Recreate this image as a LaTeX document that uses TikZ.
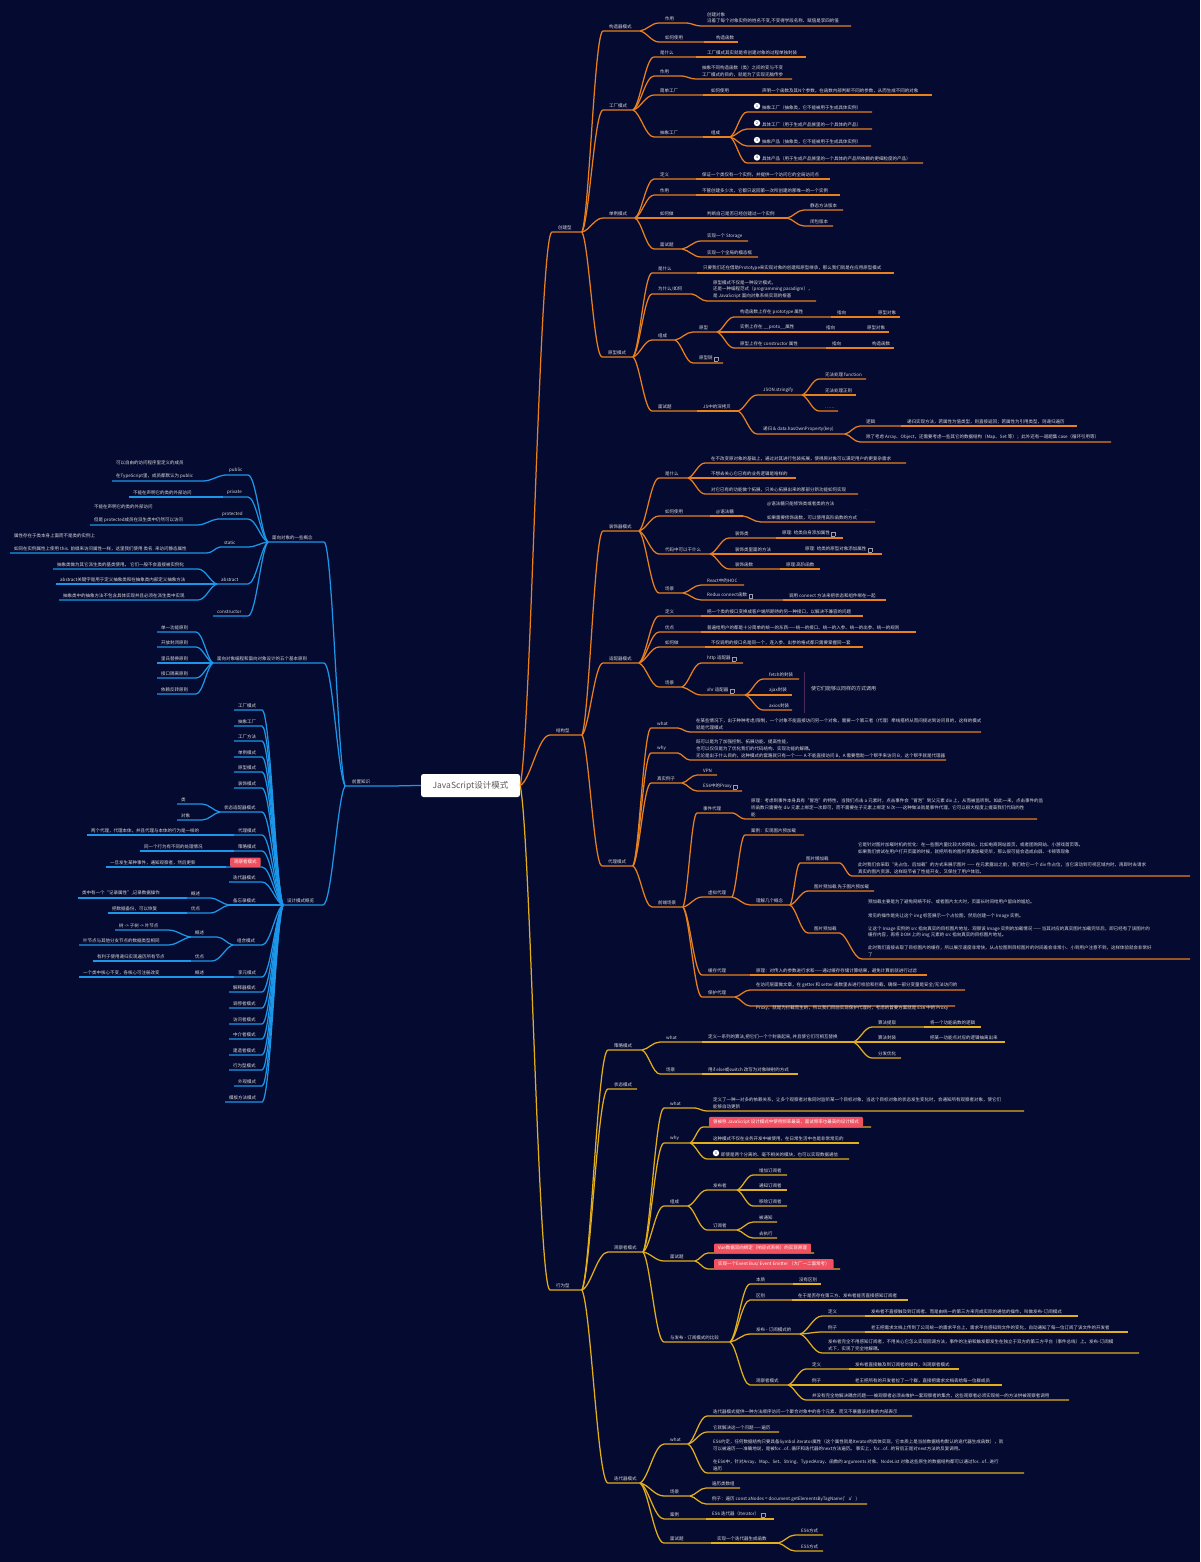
\documentclass[tikz,border=0pt]{standalone}
\usepackage{fontspec}
\setmainfont{Noto Sans CJK SC}
\usetikzlibrary{calc}
\definecolor{bgnavy}{HTML}{050A30}
\definecolor{orangeline}{HTML}{E8801E}
\definecolor{yellowline}{HTML}{E2AE1C}
\definecolor{blueline}{HTML}{1C96E8}
\definecolor{redtag}{HTML}{F0505F}
\definecolor{papertext}{HTML}{DCDCDC}
\definecolor{sumline}{HTML}{4A2C5A}
\definecolor{dimblue}{HTML}{1C4C90}
\tikzset{
	txt/.style={font=\fontsize{4.5}{6.8}\selectfont,text=papertext,inner sep=0pt,align=left}, % Every topic text
	hot/.style={fill=redtag,text=white,rounded corners=1pt,inner xsep=4pt,inner ysep=2.5pt,yshift=-2pt},
	badge/.style={circle,fill=white,text=bgnavy,inner sep=0pt,minimum size=6.4pt,font=\fontsize{3.4}{4}\selectfont},
	rootbox/.style={fill=white,rounded corners=2.5pt,text=black!65,minimum width=99pt,minimum height=23pt,inner sep=0pt,font=\fontsize{8.5}{10}\selectfont}
}
% Small note icon behind a topic text
\newcommand{\noteic}{\hspace{1.5pt}\raisebox{-.4pt}{\setlength{\fboxsep}{.5pt}\setlength{\fboxrule}{.25pt}\textcolor{papertext!70!bgnavy}{\fbox{\rule{0pt}{2.6pt}\rule{2.6pt}{0pt}}}}}
% Curve from the end of the parent line to the child line, then the line itself
\newcommand{\linkline}[2]{%
	\draw[branch] let \p1=(#1-b),\p2=(#2-a) in (\x1,\y1)
		.. controls ({\x1+.35*(\x2-\x1)},{\y1+.1*(\y2-\y1)}) and ({\x1+.6*(\x2-\x1)},\y2) .. (\x2,\y2) -- (#2-b);}
% [node options]{name}{parent}{line start}{line end}{line y}{text}
\newcommand{\topicR}[7][]{%
	\coordinate (#2-a) at (#4,#6);
	\coordinate (#2-b) at (#5,#6);
	\linkline{#3}{#2}
	\node[txt,anchor=south west,#1] (#2) at ($(#2-a)+(6,-2)$) {#7};}
\newcommand{\topicL}[7][]{%
	\coordinate (#2-a) at (#4,#6);
	\coordinate (#2-b) at (#5,#6);
	\linkline{#3}{#2}
	\node[txt,anchor=south west,#1] (#2) at ($(#2-b)+(4,-2)$) {#7};}
\begin{document}
\begin{tikzpicture}[x=1pt,y=-1pt]
	\fill[bgnavy] (0,0) rectangle (1200,1562);
	\useasboundingbox (0,0) rectangle (1200,1562);
	% Draw root
	\node[rootbox] (root) at (470.5,785.5) {JavaScript设计模式};
	\coordinate (rootr-b) at (root.east);
	\coordinate (rootl-b) at (root.west);
	% Creational branch
	\begin{scope}[branch/.style={draw=orangeline,line width=1.25pt}]
		\topicR{cj}{rootr}{552}{582}{232}{创建型}
		\topicR{gz}{cj}{603}{640}{31}{构造器模式}
		\topicR{gza}{gz}{659}{687}{23}{作用}
		\topicR{gzb}{gza}{701}{851}{26}{创建对象\\沿着了每个对象实例的姓名不变,不变得学段名称、赋值是李四的值}
		\topicR{gzc}{gz}{659}{704}{42}{如何使用}
		\topicR{gzd}{gzc}{710}{738}{42}{构造函数}
		\topicR{gc}{cj}{603}{633}{110}{工厂模式}
		\topicR{gca}{gc}{654}{696}{57}{是什么}
		\topicR{gcb}{gca}{701}{806}{57}{工厂模式其实就是将创建对象的过程单独封装}
		\topicR{gcc}{gc}{654}{682}{76}{作用}
		\topicR{gcd}{gcc}{696}{792}{79}{抽象不同构造函数（类）之间的变与不变\\工厂模式的目的，就是为了实现无脑传参}
		\topicR{gce}{gc}{654}{703}{95}{简单工厂}
		\topicR{gcf}{gce}{705}{756}{95}{如何使用}
		\topicR{gcg}{gcf}{756}{932}{95}{声明一个函数及其N个参数，在函数内部判断不同的参数，从而生成不同的对象}
		\topicR{gch}{gc}{654}{703}{137}{抽象工厂}
		\topicR{gci}{gch}{705}{730}{137}{组成}
		\topicR{gcj}{gci}{747}{872}{112}{\hspace{9pt}抽象工厂（抽象类，它不能被用于生成具体实例）}
		\topicR{gck}{gci}{747}{872}{129}{\hspace{9pt}具体工厂（用于生成产品族里的一个具体的产品）}
		\topicR{gcl}{gci}{747}{871}{146}{\hspace{9pt}抽象产品（抽象类，它不能被用于生成具体实例）}
		\topicR{gcm}{gci}{747}{923}{163}{\hspace{9pt}具体产品（用于生成产品族里的一个具体的产品所依赖的更细粒度的产品）}
		\node[badge] (bda) at (757,106) {1};
		\node[badge] (bdb) at (757,123) {2};
		\node[badge] (bdc) at (757,140) {3};
		\node[badge] (bdd) at (757,157.5) {4};
		\topicR{dl}{cj}{603}{635}{218}{单例模式}
		\topicR{dla}{dl}{654}{696}{179}{定义}
		\topicR{dlb}{dla}{696}{830}{179}{保证一个类仅有一个实例，并提供一个访问它的全局访问点}
		\topicR{dlc}{dl}{654}{696}{195}{作用}
		\topicR{dld}{dlc}{696}{840}{195}{不管创建多少次，它都只返回第一次所创建的那唯一的一个实例}
		\topicR{dle}{dl}{654}{696}{218}{如何做}
		\topicR{dlf}{dle}{701}{787}{218}{判断自己是否已经创建过一个实例}
		\topicR{dlg}{dlf}{804}{843}{210}{静态方法版本}
		\topicR{dlh}{dlf}{804}{833}{226}{闭包版本}
		\topicR{dli}{dl}{654}{682}{249}{面试题}
		\topicR{dlj}{dli}{701}{748}{241}{实现一个 Storage}
		\topicR{dlk}{dli}{701}{758}{257}{实现一个全局的模态框}
		\topicR{yx}{cj}{602}{633}{357}{原型模式}
		\topicR{yxa}{yx}{652}{697}{273}{是什么}
		\topicR{yxb}{yxa}{697}{894}{273}{只要我们还在借助Prototype来实现对象的创建和原型继承，那么我们就是在应用原型模式}
		\topicR{yxc}{yx}{652}{692}{294}{为什么/如何}
		\topicR{yxd}{yxc}{707}{816}{301}{原型模式不仅是一种设计模式，\\还是一种编程范式（programming paradigm），\\是 JavaScript 面向对象系统实现的根基}
		\topicR{yxe}{yx}{652}{675}{340}{组成}
		\topicR{yxf}{yxe}{693}{717}{332}{原型}
		\topicR{yxg}{yxf}{734}{831}{317}{构造函数上存在 prototype 属性}
		\topicR{yxh}{yxg}{831}{872}{317}{指向}
		\topicR{yxi}{yxh}{872}{900}{317}{原型对象}
		\topicR{yxj}{yxf}{734}{820}{332}{实例上存在 \_\_proto\_\_属性}
		\topicR{yxk}{yxj}{820}{861}{332}{指向}
		\topicR{yxl}{yxk}{861}{889}{332}{原型对象}
		\topicR{yxm}{yxf}{734}{826}{348}{原型上存在 constructor 属性}
		\topicR{yxn}{yxm}{826}{866}{348}{指向}
		\topicR{yxo}{yxn}{866}{894}{348}{构造函数}
		\topicR{yxp}{yxe}{693}{723}{363}{原型链\noteic}
		\topicR{yxq}{yx}{652}{697}{411}{面试题}
		\topicR{yxr}{yxq}{697}{738}{411}{JS中的深拷贝}
		\topicR{yxs}{yxr}{757}{802}{395}{JSON.stringify}
		\topicR{yxt}{yxs}{819}{866}{379}{无法处理 function}
		\topicR{yxu}{yxs}{819}{856}{395}{无法处理正则}
		\topicR{yxv}{yxs}{819}{838}{411}{……}
		\topicR{yxw}{yxr}{757}{845}{434}{递归 \& data.hasOwnProperty(key)}
		\topicR{yxx}{yxw}{860}{901}{426}{逻辑}
		\topicR{yxy}{yxx}{901}{1077}{426}{递归实现方法，若属性为值类型，则直接返回；若属性为引用类型，则递归遍历}
		\topicR{yxz}{yxw}{860}{1111}{442}{除了考虑 Array、Object，还需要考虑一些其它的数据结构（Map、Set 等）；此外还有一道题集 case（循环引用等）}
	\end{scope}
	% Structural branch
	\begin{scope}[branch/.style={draw=orangeline,line width=1.25pt}]
		\topicR{jg}{rootr}{550}{582}{735}{结构型}
		\topicR{zs}{jg}{603}{639}{531}{装饰器模式}
		\topicR{zsa}{zs}{659}{688}{478}{是什么}
		\topicR{zsb}{zsa}{705}{906}{463}{在不改变原对象的基础上，通过对其进行包装拓展，使得原对象可以满足用户的更复杂需求}
		\topicR{zsc}{zsa}{705}{796}{478}{不想去关心它已有的业务逻辑是啥样的}
		\topicR{zsd}{zsa}{705}{858}{494}{对它已有的功能做个拓展，只关心拓展出来的那部分新功能如何实现}
		\topicR{zse}{zs}{659}{710}{516}{如何使用}
		\topicR{zsf}{zse}{710}{743}{516}{@语法糖}
		\topicR{zsg}{zsf}{761}{875}{522}{@语法糖只能修饰类或者类的方法\\[7pt]如果需要修饰函数，可以使用高阶函数的方式}
		\node[txt,text=dimblue] (zsdot) at (867,510) {...};
		\topicR{zsh}{zs}{659}{710}{554}{代码中可以干什么}
		\topicR{zsi}{zsh}{729}{776}{538}{装饰类}
		\topicR{zsj}{zsi}{776}{843}{538}{原理: 给类自身添加属性\noteic}
		\topicR{zsk}{zsh}{729}{799}{554}{装饰类里面的方法}
		\topicR{zsl}{zsk}{799}{882}{554}{原理: 给类的原型对象添加属性\noteic}
		\topicR{zsm}{zsh}{729}{780}{569}{装饰函数}
		\topicR{zsn}{zsm}{780}{820}{569}{原理:高阶函数}
		\topicR{zso}{zs}{659}{683}{593}{场景}
		\topicR{zsp}{zso}{701}{744}{585}{React中的HOC}
		\topicR{zsq}{zso}{701}{783}{600}{Redux connect函数\noteic}
		\topicR{zsr}{zsq}{783}{886}{600}{调用 connect 方法来把状态和组件绑在一起}
		\topicR{sp}{jg}{603}{639}{663}{适配器模式}
		\topicR{spa}{sp}{659}{701}{616}{定义}
		\topicR{spb}{spa}{701}{863}{616}{把一个类的接口变换成客户端所期待的另一种接口，以解决不兼容的问题}
		\topicR{spc}{sp}{659}{701}{632}{优点}
		\topicR{spd}{spc}{701}{916}{632}{普遍给用户的都是十分简单的统一的东西——统一的接口、统一的入参、统一的出参、统一的规则}
		\topicR{spe}{sp}{659}{705}{647}{如何做}
		\topicR{spf}{spe}{705}{863}{647}{不仅调用的接口名是同一个，连入参、出参的格式都只需要掌握同一套}
		\topicR{spg}{sp}{659}{682}{687}{场景}
		\topicR{sph}{spg}{701}{743}{663}{http 适配器\noteic}
		\topicR{spi}{spg}{701}{745}{695}{xhr 适配器\noteic}
		\topicR{spj}{spi}{763}{799}{679}{fetch的封装}
		\topicR{spk}{spi}{763}{792}{695}{ajax封装}
		\topicR{spl}{spi}{763}{792}{710}{axios封装}
		\coordinate (sumtop) at (804,672);
		\coordinate (sumbot) at (804,713);
		\draw[sumline,line width=.6pt] (sumtop) -- (sumbot);
		\node[txt,font=\fontsize{5}{7}\selectfont,anchor=west] (sumtxt) at (811,689) {使它们能够以同样的方式调用};
		\topicR{dm}{jg}{602}{633}{866}{代理模式}
		\topicR{dma}{dm}{651}{678}{728}{what}
		\topicR{dmb}{dma}{690}{981}{732}{在某些情况下，出于种种考虑/限制，一个对象不能直接访问另一个对象，需要一个第三者（代理）牵线搭桥从而间接达到访问目的，这样的模式\\就是代理模式}
		\topicR{dmc}{dm}{651}{678}{753}{why}
		\topicR{dmd}{dmc}{690}{946}{760}{既可以是为了加强控制、拓展功能、提高性能，\\也可以仅仅是为了优化我们的代码结构、实现功能的解耦。\\无论是出于什么目的，这种模式的套路就只有一个—— A 不能直接访问 B，A 需要借助一个帮手来访问 B，这个帮手就是代理器}
		\topicR{dme}{dm}{651}{682}{783}{真实例子}
		\topicR{dmf}{dme}{697}{717}{775}{VPN}
		\topicR{dmg}{dme}{697}{742}{791}{ES6中的Proxy\noteic}
		\topicR{dmh}{dm}{652}{683}{907}{前端场景}
		\topicR{dmi}{dmh}{697}{733}{813}{事件代理}
		\topicR{dmj}{dmi}{745}{1037}{819}{原理：考虑到事件本身具有“冒泡”的特性，当我们点击 a 元素时，点击事件会“冒泡”到父元素 div 上，从而被监听到。如此一来，点击事件的监\\听函数只需要在 div 元素上绑定一次即可，而不需要在子元素上绑定 N 次——这种做法就是事件代理，它可以很大程度上提高我们代码的性\\能}
		\topicR{dmk}{dmh}{702}{732}{897}{虚拟代理}
		\topicR{dml}{dmk}{745}{804}{835}{案例：实现图片预加载}
		\topicR{dmm}{dmk}{750}{790}{905}{理解几个概念}
		\topicR{dmn}{dmm}{800}{840}{863}{图片懒加载}
		\topicR{dmo}{dmn}{852}{1190}{876}{它是针对图片加载时机的优化：在一些图片量比较大的网站，比如电商网站首页，或者团购网站、小游戏首页等。\\如果我们尝试在用户打开页面的时候，就把所有的图片资源加载完毕，那么很可能会造成白屏、卡顿等现象\\[6.5pt]此时我们会采取“先占位、后加载”的方式来展示图片 —— 在元素露出之前，我们给它一个 div 作占位，当它滚动到可视区域内时，再即时去请求\\真实的图片资源，这样既节省了性能开支，又保住了用户体验。}
		\topicR{dmp}{dmm}{808}{874}{891}{图片预加载 先于图片预加载}
		\topicR{dmq}{dmm}{808}{840}{933}{图片预加载}
		\topicR{dmr}{dmq}{862}{1190}{959}{预加载主要是为了避免网络不好、或者图片太大时，页面长时间给用户留白的尴尬。\\[7pt]常见的操作是先让这个 img 标签展示一个占位图，然后创建一个 Image 实例。\\[6pt]让这个 Image 实例的 src 指向真实的目标图片地址、观察该 Image 实例的加载情况 —— 当其对应的真实图片加载完毕后，即已经有了该图片的\\缓存内容，再将 DOM 上的 img 元素的 src 指向真实的目标图片地址。\\[6pt]此时我们直接去取了目标图片的缓存，所以展示速度非常快，从占位图到目标图片的时间差会非常小、小到用户注意不到，这样体验就会非常好\\了}
		\topicR{dms}{dmh}{702}{750}{975}{缓存代理}
		\topicR{dmt}{dms}{750}{927}{975}{原理：对传入的参数进行求和——通过缓存存储计算结果，避免计算前就进行过滤}
		\topicR{dmu}{dmh}{702}{735}{997}{保护代理}
		\topicR{dmv}{dmu}{750}{965}{990}{在访问层面做文章，在 getter 和 setter 函数里去进行校验和拦截，确保一部分变量是安全/无法访问的}
		\topicR{dmw}{dmu}{750}{955}{1006}{\smash{\raisebox{-6pt}{Proxy，就是为拦截而生的，所以我们目前实现保护代理时，考虑的首要方案就是 ES6 中的 Proxy}}}
	\end{scope}
	% Behavioral branch
	\begin{scope}[branch/.style={draw=yellowline,line width=1.25pt}]
		\topicR{xw}{rootr}{550}{582}{1290}{行为型}
		\topicR{cl}{xw}{608}{642}{1050}{策略模式}
		\topicR{cla}{cl}{660}{702}{1042}{what}
		\topicR{clb}{cla}{702}{853}{1042}{定义一系列的算法,把它们一个个封装起来, 并且使它们可相互替换}
		\topicR{clc}{clb}{872}{924}{1027}{算法提取}
		\topicR{cld}{clc}{924}{981}{1027}{将一个功能函数的逻辑}
		\topicR{cle}{clb}{872}{924}{1042}{算法封装}
		\topicR{clf}{cle}{924}{1005}{1042}{把某一功能点对应的逻辑抽离出来}
		\topicR{clg}{clb}{872}{901}{1058}{分发优化}
		\topicR{clh}{cl}{660}{702}{1074}{场景}
		\topicR{cli}{clh}{702}{798}{1074}{用if else或switch 改写为对象映射的方式}
		\topicR{zt}{xw}{608}{637}{1089}{状态模式}
		\topicR{gc2}{xw}{608}{643}{1252}{观察者模式}
		\topicR{gsa}{gc2}{664}{695}{1108}{what}
		\topicR{gsb}{gsa}{707}{1024}{1111}{定义了一种一对多的依赖关系，让多个观察者对象同时监听某一个目标对象，当这个目标对象的状态发生变化时，会通知所有观察者对象，使它们\\能够自动更新}
		\topicR{gsc}{gc2}{664}{690}{1143}{why}
		\topicR[hot]{gsd}{gsc}{703}{871}{1127}{曾被称 JavaScript 设计模式中使用频率最高，面试频率也最高的设计模式}
		\topicR{gse}{gsc}{707}{859}{1143}{这种模式不仅在业务开发中被使用，在日常生活中也是非常常见的}
		\topicR{gsf}{gsc}{707}{849}{1159}{\hspace{8pt}即使是两个分离的、毫不相关的模块，也可以实现数据通信}
		\node[badge] (bde) at (716,1153) {1};
		\topicR{gsg}{gc2}{664}{688}{1206}{组成}
		\topicR{gsh}{gsg}{707}{737}{1190}{发布者}
		\topicR{gsi}{gsh}{753}{787}{1175}{增加订阅者}
		\topicR{gsj}{gsh}{753}{787}{1190}{通知订阅者}
		\topicR{gsk}{gsh}{753}{787}{1206}{移除订阅者}
		\topicR{gsl}{gsg}{707}{737}{1230}{订阅者}
		\topicR{gsm}{gsl}{753}{777}{1222}{被通知}
		\topicR{gsn}{gsl}{753}{777}{1238}{去执行}
		\topicR{gso}{gc2}{664}{695}{1261}{面试题}
		\topicR[hot]{gsp}{gso}{708}{814}{1253}{Vue数据双向绑定（响应式系统）的实现原理}
		\topicR[hot]{gsq}{gso}{708}{840}{1269}{实现一个Event Bus/ Event Emitter （大厂一二面常考）}
		\topicR{gsr}{gc2}{664}{730}{1342}{与发布 - 订阅模式的比较}
		\topicR{gss}{gsr}{750}{793}{1284}{本质}
		\topicR{gst}{gss}{793}{821}{1284}{没有区别}
		\topicR{gsu}{gsr}{750}{792}{1300}{区别}
		\topicR{gsv}{gsu}{792}{908}{1300}{在于是否存在第三方、发布者能否直接感知订阅者}
		\topicR{gsw}{gsr}{750}{800}{1334}{发布 - 订阅模式的}
		\topicR{gsx}{gsw}{822}{865}{1316}{定义}
		\topicR{gsy}{gsx}{865}{1078}{1316}{发布者不直接触及到订阅者、而是由统一的第三方来完成实际的通信的操作，叫做发布-订阅模式}
		\topicR{gsz}{gsw}{822}{865}{1332}{例子}
		\topicR{gta}{gsz}{865}{1128}{1332}{老王把需求文档上传到了公司统一的需求平台上，需求平台感知到文件的变化，自动通知了每一位订阅了该文件的开发者}
		\topicR{gtb}{gsw}{822}{1139}{1353}{发布者完全不用感知订阅者，不用关心它怎么实现回调方法，事件的注册和触发都发生在独立于双方的第三方平台（事件总线）上。发布-订阅模\\式下，实现了完全地解耦。}
		\topicR{gtc}{gsr}{750}{788}{1385}{观察者模式}
		\topicR{gtd}{gtc}{806}{849}{1369}{定义}
		\topicR{gte}{gtd}{849}{959}{1369}{发布者直接触及到订阅者的操作，叫观察者模式}
		\topicR{gtf}{gtc}{806}{849}{1385}{例子}
		\topicR{gtg}{gtf}{849}{1002}{1385}{老王把所有的开发者拉了一个群，直接把需求文档丢给每一位群成员}
		\topicR{gth}{gtc}{806}{1069}{1400}{并没有完全地解决耦合问题——被观察者必须去维护一套观察者的集合，这些观察者必须实现统一的方法供被观察者调用}
		\topicR{dd}{xw}{608}{640}{1483}{迭代器模式}
		\topicR{dda}{dd}{664}{688}{1444}{what}
		\topicR{ddb}{dda}{707}{912}{1416}{迭代器模式提供一种方法顺序访问一个聚合对象中的各个元素，而又不暴露该对象的内部表示}
		\topicR{ddc}{dda}{707}{779}{1432}{它就解决这一个问题——遍历}
		\topicR{ddd}{dda}{707}{1024}{1473}{ES6约定，任何数据结构只要具备Symbol.iterator属性（这个属性就是Iterator的具体实现，它本质上是当前数据结构默认的迭代器生成函数），就\\可以被遍历——准确地说，是被for...of...循环和迭代器的next方法遍历。 事实上，for...of...的背后正是对next方法的反复调用。\\[6.5pt]在ES6中，针对Array、Map、Set、String、TypedArray、函数的 arguments 对象、NodeList 对象这些原生的数据结构都可以通过for...of...进行\\遍历}
		\topicR{dde}{dd}{664}{690}{1496}{场景}
		\topicR{ddf}{dde}{706}{740}{1488}{遍历类数组}
		\topicR{ddg}{dde}{706}{867}{1504}{例子：遍历 const aNodes = document.getElementsByTagName('a')}
		\topicR{ddh}{dd}{664}{706}{1519}{案例}
		\topicR{ddi}{ddh}{706}{774}{1519}{ES6 迭代器（Iterator）\noteic}
		\topicR{ddj}{dd}{664}{711}{1543}{面试题}
		\topicR{ddk}{ddj}{711}{778}{1543}{实现一个迭代器生成函数}
		\topicR{ddl}{ddk}{795}{823}{1535}{ES6方式}
		\topicR{ddm}{ddk}{795}{823}{1551}{ES5方式}
	\end{scope}
	% Left branch
	\begin{scope}[branch/.style={draw=blueline,line width=1.25pt}]
		\topicL[xshift=3pt]{qz}{rootl}{385}{345}{786}{前置知识\hspace{2pt}\textcolor{dimblue}{...}}
		\topicL{ob}{qz}{324}{268}{542}{面向对象的一些概念}
		\topicL{oba}{ob}{248}{225}{475}{public}
		\topicL{obb}{oba}{203}{112}{481}{可以自由的访问程序里定义的成员\\[6.5pt]在TypeScript里，成员都默认为 public}
		\topicL{obc}{ob}{248}{223}{497}{private}
		\topicL{obd}{obc}{201}{129}{497}{不能在声明它的类的外部访问}
		\topicL{obe}{ob}{248}{218}{519}{protected}
		\topicL{obf}{obe}{197}{90}{525}{不能在声明它的类的外部访问\\[6.5pt]但是 protected成员在派生类中仍然可以访问}
		\topicL{obg}{ob}{248}{220}{547}{static}
		\topicL{obh}{obg}{207}{10}{553}{属性存在于类本身上面而不是类的实例上\\[6.5pt]如同在实例属性上使用 this. 前缀来访问属性一样，这里我们使用 类名. 来访问静态属性}
		\topicL{obi}{ob}{248}{217}{584}{abstract}
		\topicL{obj}{obi}{198}{53}{569}{抽象类做为其它派生类的基类使用。 它们一般不会直接被实例化}
		\topicL{obk}{obi}{198}{56}{584}{abstract关键字是用于定义抽象类和在抽象类内部定义抽象方法}
		\topicL{obl}{obi}{198}{59}{600}{抽象类中的抽象方法不包含具体实现并且必须在派生类中实现}
		\topicL{obm}{ob}{248}{213}{616}{constructor}
		\topicL{wu}{qz}{324}{213}{663}{面向对象编程和面向对象设计的五个基本原则}
		\topicL{wua}{wu}{196}{157}{632}{单一功能原则}
		\topicL{wub}{wu}{196}{157}{647}{开放封闭原则}
		\topicL{wuc}{wu}{196}{157}{663}{里氏替换原则}
		\topicL{wud}{wu}{196}{157}{678}{接口隔离原则}
		\topicL{wue}{wu}{196}{157}{694}{依赖反转原则}
		\topicL{sj}{qz}{323}{283}{905}{设计模式概览}
		\topicL{sja}{sj}{262}{234}{710}{工厂模式}
		\topicL{sjb}{sj}{262}{234}{726}{抽象工厂}
		\topicL{sjc}{sj}{262}{234}{741}{工厂方法}
		\topicL{sjd}{sj}{262}{234}{757}{单例模式}
		\topicL{sje}{sj}{262}{234}{772}{原型模式}
		\topicL{sjf}{sj}{262}{234}{788}{装饰模式}
		\topicL{sjg}{sj}{262}{220}{812}{状态适配器模式}
		\topicL{sjh}{sjg}{202}{177}{804}{类}
		\topicL{sji}{sjg}{202}{177}{820}{对象}
		\topicL{sjj}{sj}{262}{234}{835}{代理模式}
		\topicL{sjk}{sjj}{234}{87}{835}{两个代理，代理本体，并且代理与本体的行为是一样的}
		\topicL{sjl}{sj}{262}{234}{851}{策略模式}
		\topicL{sjm}{sjl}{234}{140}{851}{同一个行为有不同的处理情况}
		\topicL[hot]{sjn}{sj}{262}{226}{867}{观察者模式}
		\topicL{sjo}{sjn}{226}{106}{867}{一旦发生某种事件，通知观察者，然后更新}
		\topicL{sjp}{sj}{262}{229}{882}{迭代器模式}
		\topicL{sjq}{sj}{262}{229}{905}{备忘录模式}
		\topicL{sjr}{sjq}{210}{187}{898}{概述}
		\topicL{sjs}{sjr}{187}{78}{898}{类中有一个“记录属性”,记录数据操作}
		\topicL{sjt}{sjq}{210}{187}{913}{优点}
		\topicL{sju}{sjt}{187}{108}{913}{把数据备份，可以恢复}
		\topicL{sjv}{sj}{262}{233}{945}{组合模式}
		\topicL{sjw}{sjv}{217}{191}{937}{概述}
		\topicL{sjx}{sjw}{168}{115}{930}{树 -> 子树 -> 叶节点}
		\topicL{sjy}{sjw}{168}{79}{945}{叶节点与其他分支节点的数据类型相同}
		\topicL{sjz}{sjv}{212}{191}{961}{优点}
		\topicL{ska}{sjz}{191}{93}{961}{有利于使用递归实现遍历所有节点}
		\topicL{skb}{sj}{262}{234}{977}{享元模式}
		\topicL{skc}{skb}{234}{191}{977}{概述}
		\topicL{skd}{skc}{191}{79}{977}{一个类中核心不变，各核心可注册改变}
		\topicL{ske}{sj}{262}{229}{992}{解释器模式}
		\topicL{skf}{sj}{262}{229}{1008}{调停者模式}
		\topicL{skg}{sj}{262}{229}{1024}{访问者模式}
		\topicL{skh}{sj}{262}{229}{1039}{中介者模式}
		\topicL{ski}{sj}{262}{229}{1055}{建造者模式}
		\topicL{skj}{sj}{262}{229}{1070}{行为型模式}
		\topicL{skk}{sj}{262}{234}{1086}{外观模式}
		\topicL{skl}{sj}{262}{225}{1102}{模板方法模式}
	\end{scope}
\end{tikzpicture}
\end{document}
